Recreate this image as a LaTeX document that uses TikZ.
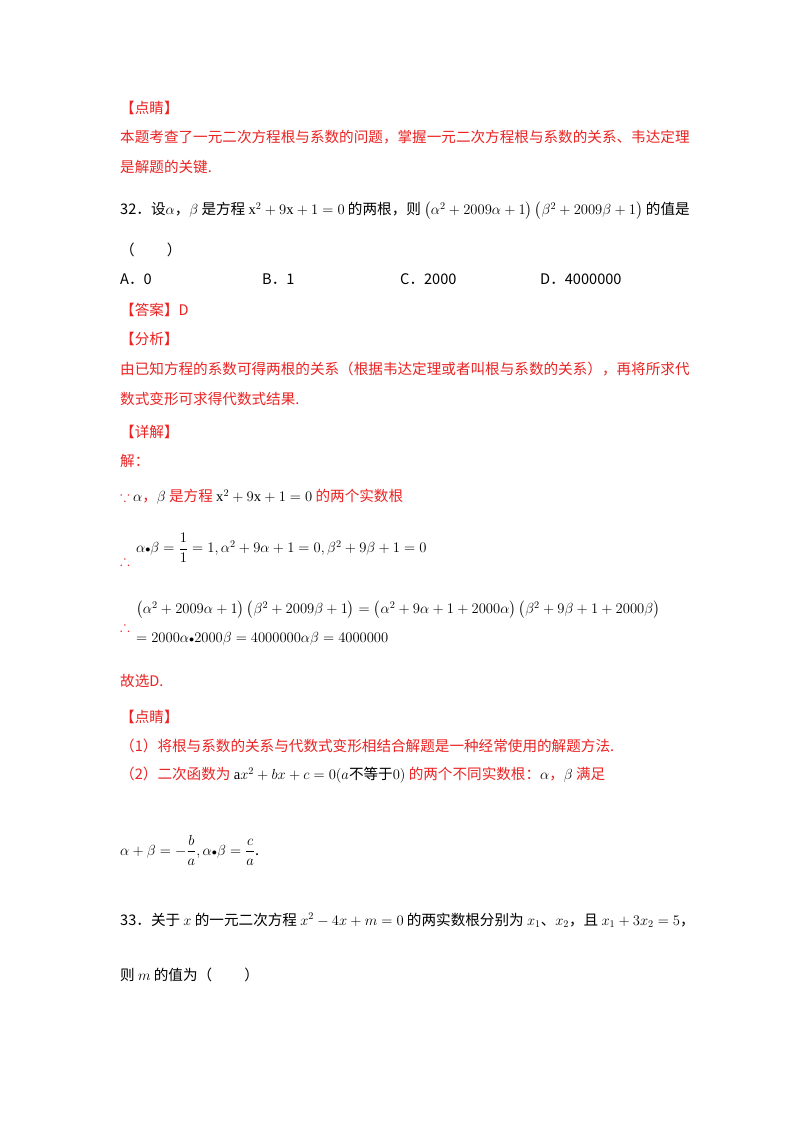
\RequirePackage{fix-cm}
\documentclass[tikz,border=0pt]{standalone}
\usepackage{amsmath,amssymb}
\usepackage{fontspec}
\setmainfont{Liberation Serif}
\newfontfamily\cjk{Noto Sans CJK SC}
\definecolor{rd}{RGB}{235,35,35}
\newcommand{\bt}{{\scriptstyle\bullet}}
\begin{document}
\begin{tikzpicture}[x=1pt,y=1pt,
  t/.style={anchor=west,inner sep=0pt,font=\cjk\fontsize{14.6}{18}\selectfont},
  r/.style={t,text=rd}]
\useasboundingbox (0,0) rectangle (800,-1132);
\fill[white] (0,0) rectangle (800,-1132);
\node[r] (a1) at (120,-108) {【点睛】};
\node[r] (a2) at (120,-137) {本题考查了一元二次方程根与系数的问题，掌握一元二次方程根与系数的关系、韦达定理};
\node[r] (a3) at (120,-167) {是解题的关键.};
\node[t] (q32) at (120,-211) {32．设$\alpha$，$\beta$ 是方程 $\mathrm{x}^2+9\mathrm{x}+1=0$ 的两根，则 $\left(\alpha^2+2009\alpha+1\right)\left(\beta^2+2009\beta+1\right)$ 的值是};
\node[t] (br) at (120,-250) {（\hspace{2.2em}）};
\node[t] (oa) at (120,-279) {A．0};
\node[t] (ob) at (262,-279) {B．1};
\node[t] (oc) at (400,-279) {C．2000};
\node[t] (od) at (540,-279) {D．4000000};
\node[r] (ans) at (120,-310) {【答案】D};
\node[r] (fx) at (120,-339) {【分析】};
\node[r] (f1) at (120,-369) {由已知方程的系数可得两根的关系（根据韦达定理或者叫根与系数的关系），再将所求代};
\node[r] (f2) at (120,-399) {数式变形可求得代数式结果.};
\node[r] (xj) at (120,-432) {【详解】};
\node[r] (j) at (120,-461) {解：};
\node[r] (s1) at (120,-497) {$\boldsymbol{\because}$ \textcolor{black}{$\alpha$}，\textcolor{black}{$\beta$} 是方程 \textcolor{black}{$\mathrm{x}^2+9\mathrm{x}+1=0$} 的两个实数根};
\node[r] (s2a) at (120,-560) {$\boldsymbol{\therefore}$};
\node[t] (s2) at (136,-548) {$\alpha\bt\beta=\dfrac{1}{1}=1,\alpha^2+9\alpha+1=0,\beta^2+9\beta+1=0$};
\node[r] (s3a) at (120,-626) {$\boldsymbol{\therefore}$};
\node[t] (s3) at (136,-610) {$\left(\alpha^2+2009\alpha+1\right)\left(\beta^2+2009\beta+1\right)=\left(\alpha^2+9\alpha+1+2000\alpha\right)\left(\beta^2+9\beta+1+2000\beta\right)$};
\node[t] (s4) at (136,-639) {$=2000\alpha\bt2000\beta=4000000\alpha\beta=4000000$};
\node[r] (gx) at (120,-681) {故选D.};
\node[r] (dj) at (120,-717) {【点睛】};
\node[r] (p1) at (120,-746) {（1）将根与系数的关系与代数式变形相结合解题是一种经常使用的解题方法.};
\node[r] (p2) at (120,-775) {（2）二次函数为 \textcolor{black}{$\mathrm{a}x^2+bx+c=0(a\text{\cjk 不等于}0)$} 的两个不同实数根：\textcolor{black}{$\alpha$}，\textcolor{black}{$\beta$} 满足};
\node[t] (p3) at (120,-850) {$\alpha+\beta=-\dfrac{b}{a},\alpha\bt\beta=\dfrac{c}{a}$.};
\node[t] (q33) at (120,-920) {33．关于 $x$ 的一元二次方程 $x^2-4x+m=0$ 的两实数根分别为 $x_1$、$x_2$，且 $x_1+3x_2=5$，};
\node[t] (q33b) at (120,-975) {则 $m$ 的值为（\hspace{2.2em}）};
\end{tikzpicture}
\end{document}
